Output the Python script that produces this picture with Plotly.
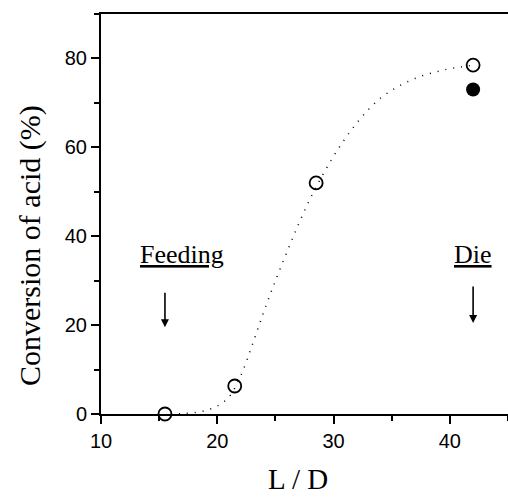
import plotly.graph_objects as go

# Data
ld_open = [15.5, 21.5, 28.5, 42.0]
conv_open = [0.0, 6.3, 52.0, 78.5]
ld_filled = [42.0]
conv_filled = [73.0]

curve_ld = [16, 17, 18, 19, 20, 21, 22, 23, 24, 25, 26, 27, 28, 29, 30,
            31, 32, 33, 34, 35, 36, 37, 38, 39, 40, 41, 42]
curve_conv = [0.0, 0.1, 0.3, 0.8, 1.8, 3.8, 8.5, 15.5, 23.0, 30.0, 36.5, 42.8,
              48.5, 53.5, 58.0, 62.0, 65.5, 68.5, 71.0, 72.8, 74.3, 75.5,
              76.4, 77.1, 77.7, 78.1, 78.5]

x_ticks = [10, 20, 30, 40]
y_ticks = [0, 20, 40, 60, 80]

serif = "Liberation Serif, Times New Roman, serif"
sans = "Liberation Sans, Arial, sans-serif"

fig = go.Figure()
fig.add_trace(go.Scatter(
    x=curve_ld, y=curve_conv, mode="lines",
    line=dict(color="black", width=1.5, dash="1px,7px", shape="spline"),
    hoverinfo="skip", showlegend=False))
fig.add_trace(go.Scatter(
    x=ld_open, y=conv_open, mode="markers", cliponaxis=False,
    marker=dict(symbol="circle-open", size=13, color="black", line=dict(width=1.8)),
    showlegend=False))
fig.add_trace(go.Scatter(
    x=ld_filled, y=conv_filled, mode="markers", cliponaxis=False,
    marker=dict(symbol="circle", size=14, color="black"),
    showlegend=False))

axis_common = dict(
    showgrid=False, zeroline=False, showline=True, linecolor="black", linewidth=2,
    ticks="outside", ticklen=8, tickwidth=2, tickcolor="black",
    tickfont=dict(family=sans, size=20, color="black"),
)
fig.update_xaxes(range=[10, 45], tickvals=x_ticks, mirror=True,
                 minor=dict(ticks="outside", ticklen=5, tickwidth=1.5, tickcolor="black", dtick=5, tick0=10),
                 **axis_common)
fig.update_yaxes(range=[0, 90], tickvals=y_ticks,
                 minor=dict(ticks="outside", ticklen=5, tickwidth=1.5, tickcolor="black", dtick=10, tick0=0),
                 **axis_common)

annotations = [
    dict(x=17.0, y=36, xref="x", yref="y", text="<u>Feeding</u>", showarrow=False,
         xanchor="center", yanchor="middle",
         font=dict(family=serif, size=26, color="black")),
    dict(x=42.0, y=36, xref="x", yref="y", text="<u>Die</u>", showarrow=False,
         xanchor="center", yanchor="middle",
         font=dict(family=serif, size=26, color="black")),
    dict(x=15.5, y=19.5, xref="x", yref="y", ax=0, ay=-36, text="", showarrow=True,
         arrowhead=2, arrowsize=1, arrowwidth=1.6, arrowcolor="black"),
    dict(x=42.0, y=20.5, xref="x", yref="y", ax=0, ay=-38, text="", showarrow=True,
         arrowhead=2, arrowsize=1, arrowwidth=1.6, arrowcolor="black"),
    dict(x=298, y=479, xref="paper", yref="paper", text="L / D", showarrow=False,
         xanchor="center", yanchor="middle",
         font=dict(family=serif, size=29, color="black")),
    dict(x=30, y=246, xref="paper", yref="paper", text="Conversion of acid (%)",
         textangle=-90, showarrow=False, xanchor="center", yanchor="middle",
         font=dict(family=serif, size=30, color="black")),
]
# convert pixel positions of titles to paper coordinates
W, H = 508, 497
L, R, T, B = 101, 0, 14, 83
pw, ph = W - L - R, H - T - B
for a in annotations:
    if a["xref"] == "paper":
        a["x"] = (a["x"] - L) / pw
        a["y"] = (H - B - a["y"]) / ph
fig.update_layout(
    width=W, height=H,
    margin=dict(l=L, r=R, t=T, b=B),
    plot_bgcolor="white", paper_bgcolor="white",
    annotations=annotations,
)
fig.write_html("out.html")
